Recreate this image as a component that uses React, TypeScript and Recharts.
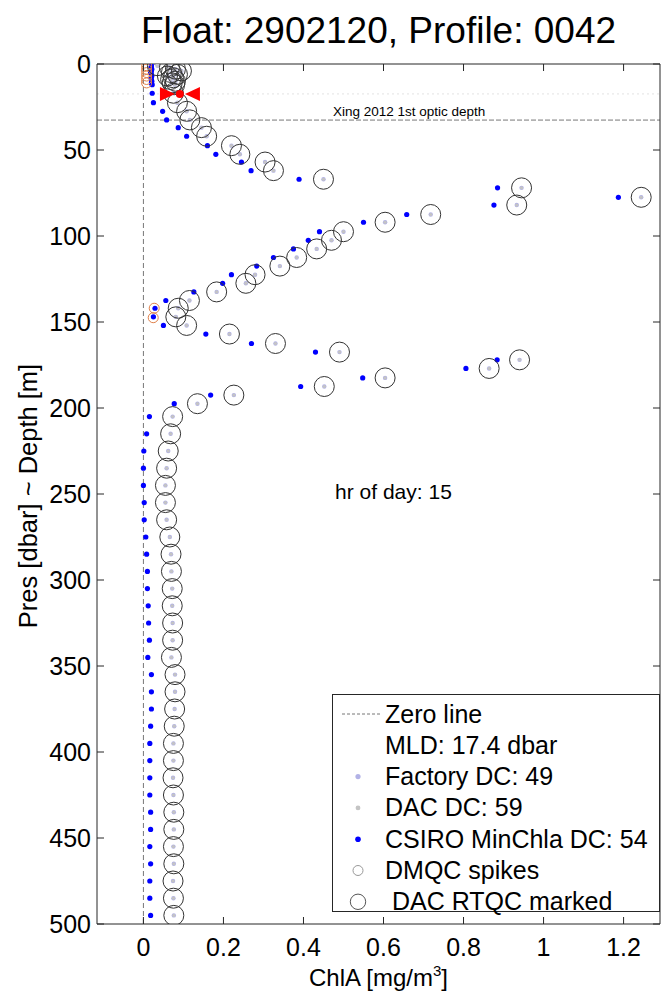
import React from 'react';
import { ScatterChart, Scatter, XAxis, YAxis, ReferenceLine, ReferenceDot } from 'recharts';

// axis ticks
const chlTicks = [0, 0.2, 0.4, 0.6, 0.8, 1, 1.2];
const presTicks = [0, 50, 100, 150, 200, 250, 300, 350, 400, 450, 500];

// sample pressures [dbar]: surface, upper profile, deep profile
const pres = [
  1, 2, 3, 4, 5, 6, 7, 8, 9, 10, 11, 12,
  17, 22.5, 27.5, 32.5, 37, 42, 47.5, 52.5, 57, 62, 67, 72, 77.5, 82, 87.5, 92, 97.5,
  102.5, 107.5, 112.5, 117.5, 122.5, 127.5, 132.5, 137.5, 142, 147, 152, 157, 162.5,
  167.5, 172, 177, 182.5, 187.5, 192.5, 197.5,
  205, 215, 225, 235, 245, 255, 265, 275, 285, 295, 305, 315, 325, 335, 345, 355,
  365, 375, 385, 395, 405, 415, 425, 435, 445, 455, 465, 475, 485, 495,
];

// ChlA with factory dark count (also DAC DC and RTQC marked)
const factoryChl = [
  0.035, 0.065, 0.08, 0.095, 0.07, 0.085, 0.06, 0.075, 0.068, 0.08, 0.072, 0.078,
  0.075, 0.085, 0.108, 0.116, 0.145, 0.158, 0.22, 0.241, 0.304, 0.325, 0.45, 0.945, 1.244,
  0.933, 0.718, 0.604, 0.5, 0.47, 0.433, 0.383, 0.341, 0.279, 0.256, 0.183, 0.115, 0.087,
  0.081, 0.108, 0.215, 0.33, 0.49, 0.94, 0.864, 0.604, 0.452, 0.226, 0.135,
  0.073, 0.068, 0.062, 0.058, 0.055, 0.055, 0.058, 0.066, 0.069, 0.07, 0.072, 0.072,
  0.073, 0.073, 0.07, 0.079, 0.079, 0.078, 0.077, 0.075, 0.075, 0.074, 0.075, 0.076,
  0.076, 0.075, 0.076, 0.074, 0.075, 0.076,
];

// ChlA with CSIRO minimum-chla dark count
const csiroChl = [
  0.02, 0.019, 0.021, 0.02, 0.018, 0.02, 0.021, 0.019, 0.02, 0.021, 0.02, 0.022,
  0.022, 0.025, 0.048, 0.058, 0.087, 0.108, 0.16, 0.181, 0.245, 0.269, 0.389, 0.885, 1.187,
  0.876, 0.658, 0.55, 0.44, 0.412, 0.375, 0.325, 0.283, 0.22, 0.198, 0.126, 0.056, 0.029,
  0.025, 0.05, 0.156, 0.27, 0.43, 0.884, 0.806, 0.548, 0.393, 0.168, 0.077,
  0.015, 0.008, 0.001, 0, 0, 0.002, 0.002, 0.006, 0.008, 0.01, 0.01, 0.012,
  0.013, 0.015, 0.011, 0.02, 0.02, 0.02, 0.018, 0.016, 0.016, 0.016, 0.016, 0.018,
  0.018, 0.016, 0.018, 0.016, 0.016, 0.018,
];

// DMQC spikes
const spikePres = [1, 3, 5, 7, 9, 11, 142, 147.5];
const spikeChl = [0.008, 0.008, 0.008, 0.008, 0.008, 0.008, 0.027, 0.0245];

// mixed layer depth markers
const mldPres = 17.4;
const mldRightChl = [0.06];
const mldLeftChl = [0.1225];
const mldDotChl = [0.091];

const opticDepth = 32.6;
const hourOfDay = 15;

const FONT = '"Liberation Sans", Arial, Helvetica, sans-serif';
const INK = '#262626';

const toPts = (xs: number[], ys: number[]) => xs.map((x, i) => ({ x, y: ys[i] }));
const factoryPts = toPts(factoryChl, pres);
const csiroPts = toPts(csiroChl, pres);
const spikePts = toPts(spikeChl, spikePres);

function BottomTick({ x, y, payload }: any) {
  return (
    <g>
      <line x1={x} x2={x} y1={y} y2={y - 7} stroke={INK} />
      <text x={x} y={y + 32} textAnchor="middle" fontSize={25} fontFamily={FONT} fill="#000">
        {payload.value}
      </text>
    </g>
  );
}
function LeftTick({ x, y, payload }: any) {
  return (
    <g>
      <line x1={x} x2={x + 7} y1={y} y2={y} stroke={INK} />
      <text x={x - 6} y={y + 9} textAnchor="end" fontSize={25} fontFamily={FONT} fill="#000">
        {payload.value}
      </text>
    </g>
  );
}
const TopTick = ({ x, y }: any) => <line x1={x} x2={x} y1={y} y2={y + 7} stroke={INK} />;
const RightTick = ({ x, y }: any) => <line x1={x} x2={x - 7} y1={y} y2={y} stroke={INK} />;

const FactoryDot = ({ cx, cy }: any) => <circle cx={cx} cy={cy} r={2.2} fill="#b2b2e6" />;
const DacDot = ({ cx, cy }: any) => <circle cx={cx} cy={cy} r={1.6} fill="#c4c4c4" />;
const CsiroDot = ({ cx, cy }: any) => <circle cx={cx} cy={cy} r={2.6} fill="#0000ff" />;
const SpikeRing = ({ cx, cy }: any) => (
  <circle cx={cx} cy={cy} r={5} fill="none" stroke="#e0804a" strokeWidth={1} />
);
const RtqcRing = ({ cx, cy }: any) => (
  <circle cx={cx} cy={cy} r={10} fill="none" stroke="#333" strokeWidth={1} />
);
const TriRight = ({ cx, cy }: any) => (
  <polygon points={`${cx - 7.5},${cy - 7} ${cx - 7.5},${cy + 7} ${cx + 7.5},${cy}`} fill="#ff0000" />
);
const TriLeft = ({ cx, cy }: any) => (
  <polygon points={`${cx + 7.5},${cy - 7} ${cx + 7.5},${cy + 7} ${cx - 7.5},${cy}`} fill="#ff0000" />
);
const RedDot = ({ cx, cy }: any) => <circle cx={cx} cy={cy} r={4} fill="#ff0000" />;

const legendRows = [
  'Zero line',
  'MLD: ' + mldPres + ' dbar',
  'Factory DC: 49',
  'DAC DC: 59',
  'CSIRO MinChla DC: 54',
  'DMQC spikes',
  ' DAC RTQC marked',
];

function LegendBox() {
  const rowH = 31.3;
  return (
    <svg width={329} height={232} style={{ position: 'absolute', left: 332, top: 694 }}>
      <rect x={0.5} y={0.5} width={327} height={217} fill="#fff" stroke={INK} />
      {legendRows.map((label, i) => {
        const cy = 20 + i * rowH;
        let mark: any = null;
        if (i === 0) mark = <line x1={10} x2={48} y1={cy} y2={cy} stroke="#777" strokeDasharray="3 2" />;
        if (i === 2) mark = <circle cx={26} cy={cy} r={2.6} fill="#b2b2e6" />;
        if (i === 3) mark = <circle cx={26} cy={cy} r={2.4} fill="#c4c4c4" />;
        if (i === 4) mark = <circle cx={26} cy={cy} r={2.8} fill="#0000ff" />;
        if (i === 5) mark = <circle cx={26} cy={cy} r={5} fill="none" stroke="#999" />;
        if (i === 6) mark = <circle cx={26} cy={cy} r={7.7} fill="none" stroke="#555" />;
        return (
          <g key={label}>
            {mark}
            <text x={53} y={cy + 8.5} fontSize={25} fontFamily={FONT} fill="#000" xmlSpace="preserve">
              {label}
            </text>
          </g>
        );
      })}
    </svg>
  );
}

export default function App() {
  return (
    <div style={{ position: 'absolute', left: 0, top: 0, width: 661, height: 994, background: '#fff' }}>
      <div
        style={{
          position: 'absolute', left: 97, top: 12, width: 563, textAlign: 'center',
          fontFamily: FONT, fontSize: 37, lineHeight: '37px', color: '#000',
        }}
      >
        Float: 2902120, Profile: 0042
      </div>
      <ScatterChart width={661} height={994} margin={{ top: 4, right: 0, bottom: 0, left: 0 }}>
        <XAxis
          type="number" dataKey="x" domain={[-0.116, 1.291]} ticks={chlTicks} allowDataOverflow
          interval={0} height={70} tickSize={0} tickMargin={0} tickLine={false}
          axisLine={{ stroke: INK }} tick={BottomTick}
          label={(p: any) => (
            <text x={378.5} y={986} textAnchor="middle" fontSize={24} fontFamily={FONT} fill="#000">
              ChlA [mg/m<tspan fontSize={15} dy={-10}>3</tspan><tspan dy={10}>]</tspan>
            </text>
          )}
        />
        <XAxis
          xAxisId="top" orientation="top" type="number" dataKey="x" domain={[-0.116, 1.291]}
          ticks={chlTicks} allowDataOverflow interval={0} height={60} tickSize={0} tickMargin={0}
          tickLine={false} axisLine={{ stroke: INK }} tick={TopTick}
        />
        <YAxis
          type="number" dataKey="y" domain={[0, 500]} reversed ticks={presTicks} allowDataOverflow
          interval={0} width={97} tickSize={0} tickMargin={0} tickLine={false}
          axisLine={{ stroke: INK }} tick={LeftTick}
          label={(p: any) => (
            <text
              x={37} y={496} transform="rotate(-90 37 496)" textAnchor="middle"
              fontSize={25.5} fontFamily={FONT} fill="#000"
            >
              Pres [dbar] ~ Depth [m]
            </text>
          )}
        />
        <YAxis
          yAxisId="right" orientation="right" type="number" dataKey="y" domain={[0, 500]} reversed
          ticks={presTicks} allowDataOverflow interval={0} width={1} tickSize={0} tickMargin={0}
          tickLine={false} axisLine={{ stroke: INK }} tick={RightTick}
        />
        <ReferenceLine x={0} stroke="#777" strokeDasharray="5 3" />
        <ReferenceLine y={mldPres} stroke="#e2e2e2" strokeDasharray="2 3" />
        <ReferenceLine
          y={opticDepth} stroke="#777" strokeDasharray="5 2"
          label={(p: any) => (
            <text x={p.viewBox.x + 236} y={p.viewBox.y - 4} fontSize={13.5} fontFamily={FONT} fill="#000">
              Xing 2012 1st optic depth
            </text>
          )}
        />
        <ReferenceDot
          x={0.479} y={249} r={0} stroke="none" fill="none"
          label={(p: any) => (
            <text x={p.viewBox.x} y={p.viewBox.y + 7} fontSize={21} fontFamily={FONT} fill="#000">
              {'hr of day: ' + hourOfDay}
            </text>
          )}
        />
        <Scatter name="Factory DC" data={factoryPts} shape={FactoryDot} isAnimationActive={false} />
        <Scatter name="DAC DC" data={factoryPts} shape={DacDot} isAnimationActive={false} />
        <Scatter name="CSIRO MinChla DC" data={csiroPts} shape={CsiroDot} isAnimationActive={false} />
        <Scatter name="DMQC spikes" data={spikePts} shape={SpikeRing} isAnimationActive={false} />
        <Scatter name="DAC RTQC marked" data={factoryPts} shape={RtqcRing} isAnimationActive={false} />
        <Scatter data={toPts(mldRightChl, [mldPres])} shape={TriRight} isAnimationActive={false} />
        <Scatter data={toPts(mldLeftChl, [mldPres])} shape={TriLeft} isAnimationActive={false} />
        <Scatter data={toPts(mldDotChl, [mldPres])} shape={RedDot} isAnimationActive={false} />
      </ScatterChart>
      <LegendBox />
    </div>
  );
}
